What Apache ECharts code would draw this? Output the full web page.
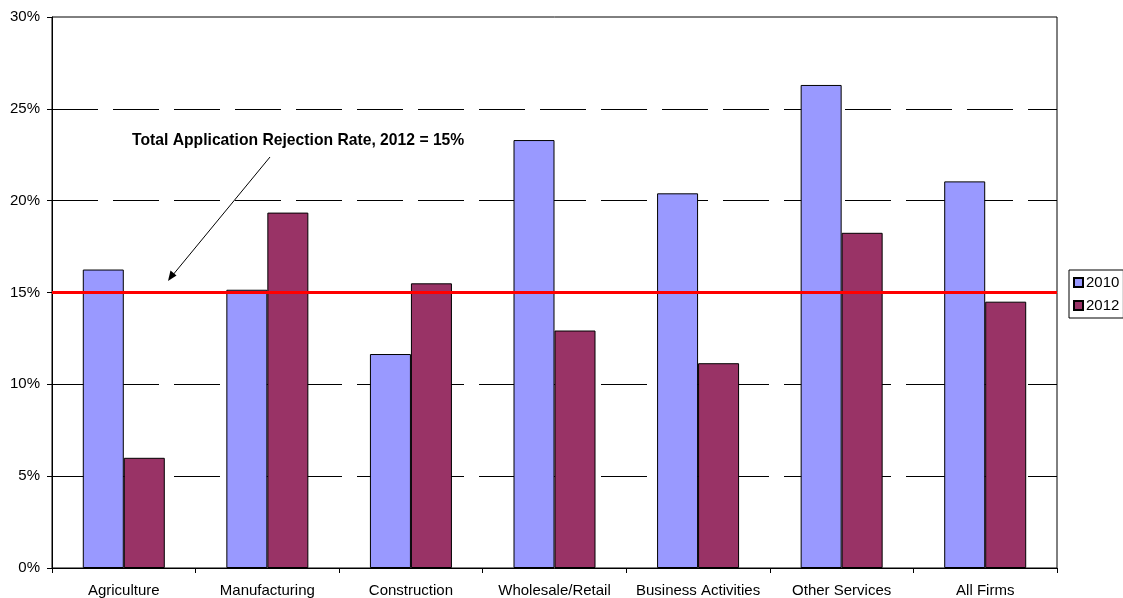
<!DOCTYPE html>
<html><head><meta charset="utf-8">
<script src="https://cdn.jsdelivr.net/npm/echarts@6/dist/echarts.min.js"></script>
<style>html,body{margin:0;padding:0;background:#fff}#c{width:1123px;height:598px}</style>
</head><body><div id="c"></div>
<script>
var categories = ['Agriculture','Manufacturing','Construction','Wholesale/Retail','Business Activities','Other Services','All Firms'];
var s2010 = [16.25, 15.15, 11.65, 23.3, 20.4, 26.3, 21.05];
var s2012 = [6.0, 19.35, 15.5, 12.93, 11.15, 18.25, 14.5];
var yTicks = [0,5,10,15,20,25,30];
var totalRate = 15;
var annotation = 'Total Application Rejection Rate, 2012 = 15%';

var chart = echarts.init(document.getElementById('c'));
var F = 'Liberation Sans, Arial, sans-serif';
chart.setOption({
  animation:false,
  backgroundColor:'#fff',
  grid:{left:52,right:66,top:17,bottom:29,show:true,borderColor:'#000',borderWidth:1,backgroundColor:'transparent'},
  legend:{
    data:['2010','2012'], orient:'vertical', left:1069, top:270,
    itemWidth:9, itemHeight:9, itemGap:8, borderColor:'#000', borderWidth:1,
    padding:[5,4,5,4], backgroundColor:'#fff',
    textStyle:{fontFamily:F,fontSize:15,color:'#000',padding:[0,0,0,-2]},
    icon:'rect'
  },
  xAxis:{
    type:'category', data:categories,
    axisLine:{lineStyle:{color:'#000',width:1}},
    axisTick:{show:true,length:5,lineStyle:{color:'#000'}},
    axisLabel:{fontFamily:F,fontSize:15,color:'#000',margin:15,interval:0}
  },
  yAxis:{
    type:'value', min:yTicks[0], max:yTicks[yTicks.length-1], interval:5,
    axisLine:{show:true,lineStyle:{color:'#000',width:1}},
    axisTick:{show:true,length:5,lineStyle:{color:'#000'}},
    axisLabel:{fontFamily:F,fontSize:15,color:'#000',margin:12,formatter:'{value}%'},
    splitLine:{show:true,showMinLine:false,showMaxLine:false,lineStyle:{color:'#000',width:1,type:[46,15]}}
  },
  series:[
    {name:'2010',type:'bar',data:s2010,barWidth:41,barGap:'0%',
     itemStyle:{color:'#9999FF',borderColor:'#000',borderWidth:1},
     markLine:{silent:true,symbol:'none',label:{show:false},
       lineStyle:{color:'#FF0000',width:3,type:'solid'},data:[{yAxis:totalRate}]}},
    {name:'2012',type:'bar',data:s2012,barWidth:41,
     itemStyle:{color:'#993366',borderColor:'#000',borderWidth:1}}
  ],
  graphic:[
    {type:'text',left:132,top:133,style:{text:annotation,font:'bold 15.7px '+F,fill:'#000'}},
    {type:'line',shape:{x1:270,y1:157,x2:172,y2:276},style:{stroke:'#000',lineWidth:1}},
    {type:'polygon',shape:{points:[[168,281],[170.5,270.5],[176.5,275.5]]},style:{fill:'#000'}}
  ]
});
</script></body></html>
